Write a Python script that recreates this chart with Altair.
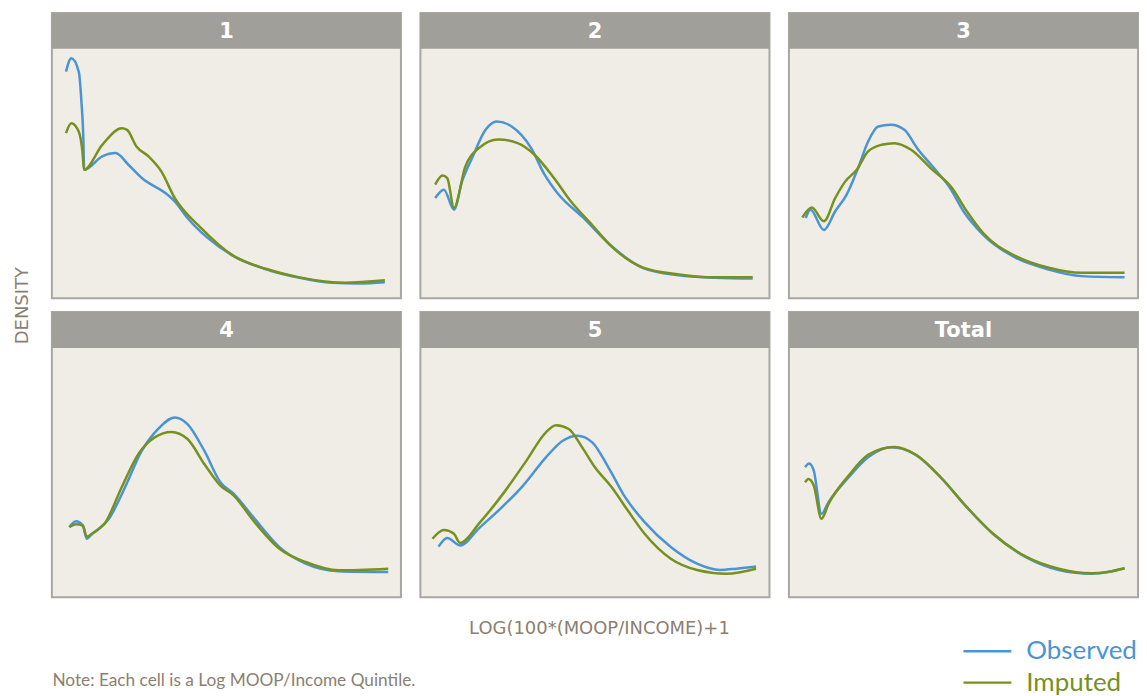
import altair as alt
import pandas as pd

panels = ["1", "2", "3", "4", "5", "Total"]
series = ["Observed", "Imputed"]
series_colors = ["#4a94d4", "#76911d"]

# ---- values (x = log scale, y = density) ----
obs_1_x = [0.01, 0.09, 0.20, 0.24, 0.27, 0.28, 0.55, 0.75, 0.94, 1.14, 1.53, 1.63, 1.82, 2.12, 2.51, 3.00, 3.49, 3.97, 4.37, 4.76]
obs_1_y = [0.545, 0.577, 0.545, 0.473, 0.377, 0.309, 0.341, 0.349, 0.321, 0.289, 0.248, 0.233, 0.193, 0.145, 0.101, 0.069, 0.049, 0.037, 0.035, 0.038]
imp_1_x = [0.01, 0.09, 0.20, 0.255, 0.28, 0.55, 0.84, 0.92, 1.06, 1.24, 1.43, 1.63, 2.02, 2.51, 3.00, 3.49, 4.17, 4.76]
imp_1_y = [0.397, 0.421, 0.401, 0.353, 0.309, 0.369, 0.409, 0.405, 0.365, 0.341, 0.305, 0.241, 0.169, 0.101, 0.070, 0.050, 0.037, 0.043]

obs_2_x = [0.02, 0.15, 0.30, 0.42, 0.57, 0.77, 0.94, 1.16, 1.45, 1.65, 1.84, 2.23, 2.62, 3.11, 3.65, 4.19, 4.75]
obs_2_y = [0.241, 0.261, 0.213, 0.281, 0.337, 0.405, 0.425, 0.413, 0.361, 0.297, 0.253, 0.193, 0.129, 0.073, 0.055, 0.049, 0.047]
imp_2_x = [0.02, 0.13, 0.20, 0.30, 0.47, 0.67, 0.96, 1.25, 1.50, 1.79, 2.04, 2.33, 2.67, 3.11, 3.65, 4.19, 4.75]
imp_2_y = [0.273, 0.295, 0.289, 0.217, 0.317, 0.361, 0.382, 0.373, 0.345, 0.289, 0.233, 0.181, 0.121, 0.074, 0.057, 0.050, 0.050]

obs_3_x = [0.05, 0.12, 0.32, 0.49, 0.66, 0.83, 0.98, 1.13, 1.32, 1.52, 1.71, 1.96, 2.20, 2.40, 2.69, 3.18, 3.67, 4.16, 4.80]
obs_3_y = [0.193, 0.213, 0.164, 0.209, 0.249, 0.313, 0.377, 0.413, 0.417, 0.405, 0.361, 0.313, 0.265, 0.209, 0.153, 0.097, 0.069, 0.053, 0.050]
imp_3_x = [0.00, 0.14, 0.32, 0.49, 0.64, 0.81, 0.98, 1.18, 1.37, 1.62, 1.91, 2.23, 2.45, 2.69, 3.18, 3.67, 4.16, 4.80]
imp_3_y = [0.194, 0.218, 0.185, 0.241, 0.281, 0.309, 0.353, 0.369, 0.373, 0.357, 0.313, 0.265, 0.209, 0.157, 0.101, 0.073, 0.061, 0.061]

obs_4_x = [0.06, 0.16, 0.26, 0.32, 0.40, 0.65, 0.89, 1.14, 1.38, 1.63, 1.82, 2.07, 2.31, 2.51, 2.80, 3.19, 3.58, 4.07, 4.81]
obs_4_y = [0.169, 0.183, 0.173, 0.141, 0.153, 0.189, 0.265, 0.353, 0.405, 0.433, 0.417, 0.353, 0.277, 0.249, 0.193, 0.121, 0.081, 0.063, 0.061]
imp_4_x = [0.06, 0.16, 0.26, 0.32, 0.40, 0.60, 0.84, 1.09, 1.33, 1.58, 1.82, 2.07, 2.31, 2.51, 2.80, 3.19, 3.58, 4.07, 4.81]
imp_4_y = [0.169, 0.176, 0.173, 0.146, 0.153, 0.181, 0.265, 0.345, 0.385, 0.398, 0.381, 0.321, 0.269, 0.245, 0.185, 0.117, 0.085, 0.065, 0.069]

obs_5_x = [0.07, 0.20, 0.39, 0.69, 0.99, 1.33, 1.67, 1.92, 2.14, 2.36, 2.60, 2.85, 3.14, 3.53, 3.92, 4.26, 4.51, 4.80]
obs_5_y = [0.122, 0.143, 0.125, 0.169, 0.213, 0.269, 0.337, 0.377, 0.389, 0.373, 0.313, 0.241, 0.181, 0.121, 0.081, 0.066, 0.069, 0.074]
imp_5_x = [-0.02, 0.15, 0.30, 0.39, 0.69, 1.03, 1.38, 1.67, 1.82, 2.01, 2.21, 2.40, 2.65, 2.89, 3.14, 3.53, 3.92, 4.36, 4.80]
imp_5_y = [0.141, 0.162, 0.153, 0.131, 0.181, 0.249, 0.329, 0.397, 0.414, 0.405, 0.361, 0.313, 0.265, 0.209, 0.153, 0.093, 0.066, 0.057, 0.069]

obs_t_x = [0.04, 0.10, 0.17, 0.285, 0.39, 0.69, 0.98, 1.32, 1.67, 2.06, 2.45, 2.84, 3.33, 3.82, 4.31, 4.55, 4.80]
obs_t_y = [0.313, 0.322, 0.305, 0.201, 0.229, 0.289, 0.337, 0.361, 0.345, 0.289, 0.217, 0.153, 0.097, 0.066, 0.057, 0.061, 0.070]
imp_t_x = [0.04, 0.09, 0.17, 0.285, 0.39, 0.69, 0.98, 1.37, 1.71, 2.06, 2.45, 2.84, 3.33, 3.82, 4.31, 4.55, 4.80]
imp_t_y = [0.277, 0.285, 0.269, 0.189, 0.225, 0.293, 0.343, 0.362, 0.341, 0.289, 0.217, 0.153, 0.098, 0.069, 0.058, 0.061, 0.070]

curves = {
    "1": (obs_1_x, obs_1_y, imp_1_x, imp_1_y),
    "2": (obs_2_x, obs_2_y, imp_2_x, imp_2_y),
    "3": (obs_3_x, obs_3_y, imp_3_x, imp_3_y),
    "4": (obs_4_x, obs_4_y, imp_4_x, imp_4_y),
    "5": (obs_5_x, obs_5_y, imp_5_x, imp_5_y),
    "Total": (obs_t_x, obs_t_y, imp_t_x, imp_t_y),
}

rows = []
for p in panels:
    ox, oy, ix, iy = curves[p]
    for i, (a, b) in enumerate(zip(ox, oy)):
        rows.append({"panel": p, "series": "Observed", "x": a, "y": b, "i": i})
    for i, (a, b) in enumerate(zip(ix, iy)):
        rows.append({"panel": p, "series": "Imputed", "x": a, "y": b, "i": i})
df = pd.DataFrame(rows)

W, H, HEAD = 350, 286, 36
TEXT_COL = "#8b7f72"

legend = alt.Legend(
    title=None, orient="none", legendX=908, legendY=627,
    symbolType="M-4,0H4", symbolSize=144, symbolStrokeWidth=2.5,
    symbolOffset=17, labelOffset=26,
    labelFont="Lato", labelFontSize=26,
    labelColor=alt.ExprRef(expr="datum.value === 'Observed' ? '#4a94d4' : '#76911d'"),
    rowPadding=5.5, padding=0,
)

no_axis_kw = dict(labels=False, ticks=False, domain=False, grid=False)


def panel(name):
    x_axis = None
    y_axis = None
    if name == "4":
        y_axis = alt.Axis(title="DENSITY", titleX=-29, titleY=-7, titleAngle=270,
                          titleAlign="center", titleBaseline="middle",
                          titleFont="DejaVu Sans", titleFontSize=18, titleFontWeight="normal",
                          titleColor=TEXT_COL, **no_axis_kw)
        x_axis = alt.Axis(title="Note: Each cell is a Log MOOP/Income Quintile.",
                          titleX=0, titleY=83, titleAlign="left", titleAnchor="start",
                          titleBaseline="middle", titleFont="Lato", titleFontSize=17.3,
                          titleFontWeight="normal", titleColor=TEXT_COL, **no_axis_kw)
    elif name == "5":
        x_axis = alt.Axis(title="LOG(100*(MOOP/INCOME)+1", titleX=W / 2 + 4, titleY=31,
                          titleAlign="center", titleBaseline="middle",
                          titleFont="DejaVu Sans", titleFontSize=18, titleFontWeight="normal",
                          titleColor=TEXT_COL, **no_axis_kw)

    lines = alt.Chart(df[df.panel == name]).mark_line(
        interpolate="monotone", strokeWidth=2.5
    ).encode(
        x=alt.X("x:Q", scale=alt.Scale(domain=[-0.2, 5.0], nice=False, zero=False), axis=x_axis),
        y=alt.Y("y:Q", scale=alt.Scale(domain=[0, 0.6864], nice=False, zero=False), axis=y_axis),
        color=alt.Color("series:N", scale=alt.Scale(domain=series, range=series_colors), legend=legend),
        order="i:Q",
    )
    hdr_df = pd.DataFrame({"panel": [name]})
    hdr = alt.Chart(hdr_df).mark_rect(color="#a09f9a").encode(
        x=alt.value(0), x2=alt.value(W), y=alt.value(0), y2=alt.value(HEAD)
    )
    txt = alt.Chart(hdr_df).mark_text(
        font="DejaVu Sans", fontSize=21, fontWeight="bold", color="white",
        align="center", baseline="middle"
    ).encode(text="panel:N", x=alt.value(W / 2), y=alt.value(HEAD / 2 + 1))
    return alt.layer(lines, hdr, txt).properties(width=W, height=H)


chart = alt.ConcatChart(
    concat=[panel(p) for p in panels], columns=3,
    spacing={"row": 14, "column": 19.5}, bounds="flush",
).properties(
    padding={"left": 4, "top": 3, "right": 0, "bottom": 0},
    background="white",
).configure_view(
    fill="#f0ede6", stroke="#a8a7a2", strokeWidth=2
)

chart.save("out.html", embed_options={"renderer": "svg", "actions": False})
